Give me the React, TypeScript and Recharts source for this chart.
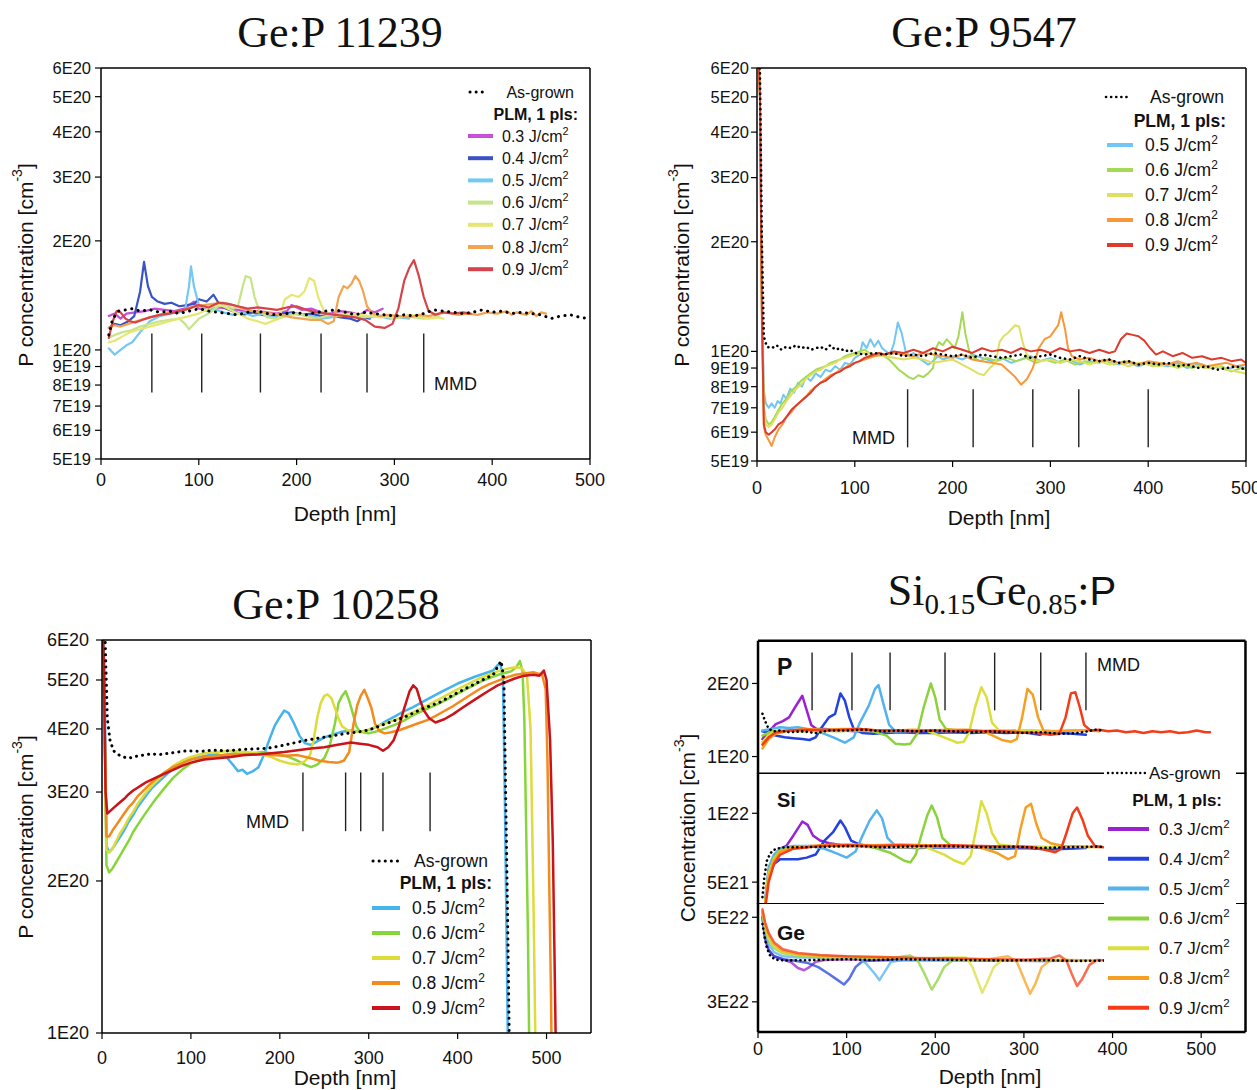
import React from 'react';
import { LineChart, Line, XAxis, YAxis, ReferenceLine } from 'recharts';

type Pt = [number, number];

const SANS = "'Liberation Sans', Arial, sans-serif";
const SERIF = "'Liberation Serif', 'Times New Roman', serif";

// ---------- Ge:P 11239  (values x1E20 cm^-3) ----------
const A_AG: Pt[] = [[8,1.10],[12,1.22],[18,1.28],[25,1.29],[32,1.30],[40,1.28],[50,1.29],[60,1.27],[70,1.28],[80,1.26],[90,1.28],[100,1.30],[110,1.28],[120,1.27],[130,1.26],[140,1.25],[150,1.27],[160,1.28],[170,1.26],[180,1.25],[190,1.26],[200,1.27],[210,1.25],[220,1.27],[230,1.28],[240,1.29],[250,1.27],[260,1.25],[270,1.27],[280,1.26],[290,1.25],[300,1.24],[310,1.25],[320,1.24],[330,1.26],[340,1.29],[350,1.28],[360,1.27],[370,1.26],[380,1.27],[390,1.29],[400,1.27],[410,1.28],[420,1.26],[430,1.27],[440,1.26],[450,1.25],[460,1.22],[470,1.24],[480,1.25],[490,1.23],[500,1.22]];
const A_03: Pt[] = [[8,1.24],[14,1.26],[20,1.22],[26,1.26],[35,1.27],[45,1.28],[55,1.30],[65,1.29],[75,1.28],[85,1.30],[95,1.36],[100,1.30],[110,1.29],[120,1.31],[130,1.30],[140,1.29],[150,1.27],[160,1.28],[170,1.27],[180,1.26],[190,1.28],[195,1.33],[205,1.29],[215,1.30],[225,1.27],[235,1.26],[245,1.28],[255,1.27],[265,1.25],[272,1.29],[280,1.27],[288,1.30]];
const A_04: Pt[] = [[8,1.15],[14,1.18],[20,1.17],[28,1.20],[34,1.24],[40,1.45],[44,1.75],[48,1.50],[52,1.40],[58,1.36],[65,1.34],[72,1.35],[80,1.32],[88,1.33],[95,1.34],[100,1.38],[108,1.36],[115,1.42],[120,1.35],[128,1.30],[135,1.28],[145,1.25],[155,1.27],[165,1.25],[175,1.24],[185,1.26],[195,1.27],[205,1.25],[215,1.26],[225,1.24],[235,1.25],[245,1.23],[255,1.22],[262,1.20],[268,1.23],[275,1.22]];
const A_05: Pt[] = [[8,1.01],[14,0.97],[20,1.00],[26,1.03],[32,1.05],[40,1.12],[50,1.20],[60,1.24],[70,1.26],[80,1.27],[86,1.29],[90,1.50],[92,1.70],[95,1.50],[100,1.33],[108,1.28],[115,1.30],[125,1.27],[135,1.25],[145,1.27],[155,1.24],[165,1.26],[175,1.23],[185,1.24],[195,1.26],[205,1.25],[215,1.24],[225,1.22],[235,1.23],[245,1.25],[255,1.24],[265,1.25],[275,1.23],[285,1.24],[295,1.22],[305,1.23],[315,1.22]];
const A_06: Pt[] = [[8,1.08],[14,1.10],[22,1.12],[30,1.13],[40,1.16],[50,1.18],[60,1.20],[70,1.21],[80,1.22],[86,1.18],[90,1.14],[95,1.18],[100,1.22],[110,1.26],[120,1.32],[128,1.33],[135,1.30],[140,1.32],[145,1.50],[148,1.60],[153,1.58],[157,1.40],[162,1.28],[170,1.23],[180,1.22],[190,1.24],[200,1.26],[210,1.24],[220,1.22],[230,1.24],[240,1.26],[250,1.25],[260,1.24],[270,1.23],[280,1.25],[290,1.24],[300,1.22],[310,1.24],[320,1.23],[330,1.22],[340,1.23],[345,1.24]];
const A_07: Pt[] = [[8,1.05],[14,1.06],[22,1.09],[30,1.12],[40,1.14],[50,1.16],[60,1.18],[70,1.20],[80,1.22],[90,1.24],[100,1.26],[110,1.30],[120,1.34],[130,1.30],[140,1.26],[150,1.22],[160,1.20],[168,1.18],[175,1.20],[182,1.22],[188,1.38],[195,1.42],[202,1.40],[208,1.45],[213,1.58],[218,1.55],[222,1.40],[228,1.28],[235,1.25],[245,1.24],[255,1.26],[265,1.25],[275,1.24],[285,1.23],[295,1.24],[305,1.23],[315,1.25],[325,1.24],[335,1.22],[345,1.23],[350,1.22]];
const A_08: Pt[] = [[8,1.15],[14,1.17],[20,1.16],[28,1.18],[36,1.20],[45,1.22],[55,1.24],[65,1.26],[75,1.27],[85,1.29],[95,1.32],[105,1.33],[115,1.34],[125,1.35],[135,1.33],[145,1.30],[155,1.28],[165,1.27],[175,1.26],[185,1.25],[195,1.23],[205,1.22],[215,1.21],[225,1.21],[232,1.18],[238,1.20],[243,1.40],[248,1.50],[252,1.48],[256,1.52],[260,1.60],[264,1.55],[268,1.45],[272,1.32],[278,1.26],[285,1.24],[295,1.25],[305,1.24],[315,1.23],[325,1.25],[335,1.24],[345,1.26],[355,1.27],[365,1.25],[375,1.26],[385,1.25],[395,1.27],[405,1.26],[415,1.28],[420,1.25],[425,1.27],[435,1.25],[440,1.28],[445,1.24],[450,1.27],[455,1.26]];
const A_09: Pt[] = [[8,1.08],[12,1.20],[16,1.28],[20,1.27],[25,1.22],[30,1.20],[35,1.19],[42,1.21],[50,1.23],[60,1.25],[70,1.26],[80,1.28],[90,1.30],[100,1.33],[110,1.31],[120,1.35],[130,1.34],[140,1.32],[150,1.30],[160,1.31],[170,1.30],[180,1.29],[190,1.31],[200,1.32],[210,1.29],[220,1.27],[230,1.26],[240,1.25],[250,1.24],[260,1.23],[270,1.21],[280,1.16],[290,1.15],[298,1.18],[304,1.30],[310,1.55],[315,1.68],[320,1.77],[325,1.60],[330,1.40],[335,1.28],[342,1.25],[350,1.27],[360,1.26],[370,1.27],[378,1.26]];
const A_MMD = [52, 103, 163, 225, 272, 330];

// ---------- Ge:P 9547  (x1E20) ----------
const B_AG: Pt[] = [[0,8],[3,6],[5,2.0],[7,1.1],[10,1.03],[15,1.02],[20,1.04],[25,1.01],[30,1.03],[35,1.02],[40,1.04],[45,1.02],[50,1.03],[55,1.01],[60,1.02],[65,1.03],[70,1.01],[75,1.04],[80,1.01],[85,1.02],[90,1.00],[95,1.01],[100,0.99],[110,0.98],[120,0.99],[130,0.98],[140,0.99],[150,0.97],[160,0.98],[170,0.97],[180,0.99],[190,0.98],[200,0.97],[210,0.98],[220,0.96],[230,0.98],[240,0.97],[250,0.96],[260,0.97],[270,0.98],[280,0.96],[290,0.97],[300,0.98],[310,0.96],[320,0.95],[330,0.97],[340,0.95],[350,0.94],[360,0.95],[370,0.93],[380,0.94],[390,0.92],[400,0.93],[410,0.92],[420,0.93],[430,0.91],[440,0.92],[450,0.90],[460,0.91],[470,0.89],[480,0.90],[490,0.91],[500,0.89]];
const B_05: Pt[] = [[0,9],[3,5],[5,1.5],[7,0.78],[9,0.72],[12,0.70],[15,0.72],[18,0.70],[21,0.73],[24,0.72],[27,0.76],[30,0.74],[34,0.79],[38,0.77],[42,0.82],[46,0.80],[50,0.85],[55,0.83],[60,0.87],[65,0.85],[70,0.89],[75,0.88],[80,0.91],[85,0.89],[90,0.93],[95,0.92],[100,0.96],[105,0.98],[108,1.06],[112,1.02],[116,1.08],[120,1.03],[124,1.07],[128,1.02],[132,1.00],[136,0.98],[140,1.05],[144,1.20],[148,1.12],[152,1.00],[156,0.97],[160,0.99],[165,0.96],[170,0.94],[175,0.92],[180,0.94],[185,0.97],[190,0.95],[200,0.97],[210,0.95],[220,0.98],[230,0.96],[240,0.94],[250,0.96],[260,0.93],[270,0.95],[280,0.97],[290,0.94],[300,0.96],[310,0.93],[320,0.95],[330,0.92],[340,0.94],[350,0.93],[360,0.95],[370,0.92],[380,0.93],[390,0.91],[400,0.93],[410,0.92],[420,0.91],[430,0.93],[440,0.90],[450,0.92],[460,0.90],[470,0.91],[480,0.89],[490,0.91],[500,0.90]];
const B_06: Pt[] = [[0,9],[3,5],[5,1.4],[7,0.70],[9,0.65],[12,0.63],[15,0.64],[18,0.66],[22,0.69],[26,0.72],[30,0.74],[35,0.78],[40,0.80],[45,0.83],[50,0.85],[55,0.87],[60,0.89],[65,0.90],[70,0.91],[75,0.93],[80,0.94],[85,0.95],[90,0.97],[95,0.98],[100,0.99],[105,1.00],[110,1.01],[115,0.99],[120,0.98],[125,0.99],[130,0.97],[135,0.95],[140,0.92],[145,0.89],[150,0.87],[155,0.85],[160,0.84],[165,0.86],[170,0.85],[175,0.87],[180,0.90],[183,1.02],[186,1.06],[190,1.04],[194,1.08],[198,1.05],[202,1.02],[206,1.10],[210,1.28],[213,1.12],[217,1.00],[222,0.96],[228,0.94],[235,0.96],[245,0.94],[255,0.96],[265,0.94],[275,0.96],[285,0.93],[295,0.95],[305,0.93],[315,0.95],[325,0.92],[335,0.94],[345,0.93],[355,0.95],[365,0.92],[375,0.94],[385,0.92],[395,0.93],[405,0.91],[415,0.93],[425,0.91],[435,0.92],[445,0.90],[455,0.92],[465,0.90],[475,0.91],[485,0.88],[495,0.90],[500,0.89]];
const B_07: Pt[] = [[0,9],[3,5],[5,1.3],[7,0.68],[9,0.63],[12,0.62],[15,0.63],[18,0.65],[22,0.68],[26,0.70],[30,0.73],[35,0.76],[40,0.79],[45,0.81],[50,0.84],[55,0.86],[60,0.88],[65,0.89],[70,0.91],[75,0.92],[80,0.93],[85,0.95],[90,0.96],[95,0.97],[100,0.98],[110,0.99],[120,0.98],[130,0.97],[140,0.96],[150,0.95],[160,0.96],[170,0.95],[180,0.93],[190,0.94],[200,0.95],[210,0.92],[220,0.89],[226,0.87],[232,0.86],[238,0.90],[244,0.93],[248,1.06],[252,1.10],[256,1.12],[260,1.15],[264,1.18],[268,1.17],[272,1.05],[276,0.98],[282,0.95],[290,0.94],[300,0.95],[310,0.93],[320,0.95],[330,0.94],[340,0.92],[350,0.94],[360,0.92],[370,0.93],[380,0.91],[390,0.93],[400,0.92],[410,0.91],[420,0.92],[430,0.90],[440,0.92],[450,0.91],[460,0.90],[470,0.91],[480,0.89],[490,0.88],[500,0.87]];
const B_08: Pt[] = [[0,9],[3,5],[5,1.2],[7,0.62],[9,0.59],[12,0.57],[15,0.55],[18,0.58],[22,0.61],[26,0.63],[30,0.66],[35,0.68],[40,0.71],[45,0.73],[50,0.75],[55,0.78],[60,0.80],[65,0.82],[70,0.84],[75,0.86],[80,0.87],[85,0.89],[90,0.90],[95,0.92],[100,0.93],[110,0.95],[120,0.97],[130,0.98],[140,0.99],[150,0.98],[160,0.97],[170,0.99],[180,0.98],[190,0.97],[200,0.96],[210,0.98],[220,0.95],[230,0.94],[240,0.93],[250,0.92],[258,0.88],[264,0.85],[270,0.81],[276,0.84],[282,0.90],[288,1.02],[294,1.08],[300,1.10],[304,1.14],[308,1.18],[311,1.28],[315,1.15],[318,1.02],[322,0.97],[330,0.95],[340,0.96],[350,0.94],[360,0.95],[370,0.93],[380,0.94],[390,0.92],[400,0.94],[410,0.93],[420,0.92],[430,0.94],[440,0.92],[450,0.93],[460,0.91],[470,0.92],[480,0.93],[490,0.91],[500,0.92]];
const B_09: Pt[] = [[0,9],[3,5],[5,1.3],[7,0.63],[9,0.60],[12,0.59],[15,0.60],[18,0.61],[22,0.63],[26,0.64],[30,0.66],[35,0.69],[40,0.71],[45,0.73],[50,0.75],[55,0.77],[60,0.80],[65,0.82],[70,0.83],[75,0.85],[80,0.87],[85,0.88],[90,0.90],[95,0.91],[100,0.93],[105,0.94],[110,0.96],[115,0.97],[120,0.98],[125,0.99],[130,0.98],[140,1.00],[150,0.99],[160,1.01],[170,0.99],[180,1.02],[190,1.00],[200,1.03],[210,1.01],[220,0.99],[230,1.02],[240,1.00],[250,1.01],[260,0.99],[270,1.02],[280,1.00],[290,1.01],[300,0.99],[310,1.02],[320,1.00],[330,1.01],[340,0.99],[350,1.01],[360,0.99],[366,1.00],[372,1.08],[378,1.12],[384,1.11],[390,1.10],[396,1.07],[402,1.02],[408,0.98],[415,1.00],[425,0.97],[435,0.99],[445,0.96],[455,0.97],[465,0.95],[475,0.96],[485,0.94],[495,0.95],[500,0.93]];
const B_MMD = [154, 221, 282, 329, 400];

// ---------- Ge:P 10258  (x1E20) ----------
const C_AG: Pt[] = [[0,7],[3,6.5],[6,4.2],[9,3.8],[13,3.62],[18,3.56],[24,3.52],[30,3.50],[38,3.53],[46,3.55],[55,3.57],[65,3.56],[75,3.58],[85,3.60],[95,3.62],[110,3.61],[125,3.63],[140,3.62],[155,3.64],[170,3.65],[185,3.66],[200,3.70],[215,3.75],[230,3.80],[245,3.84],[260,3.88],[275,3.92],[290,3.95],[300,3.98],[310,4.04],[320,4.10],[330,4.16],[340,4.22],[350,4.30],[360,4.38],[370,4.45],[380,4.52],[390,4.62],[400,4.72],[410,4.82],[420,4.92],[430,5.02],[440,5.12],[446,5.35],[449,5.45],[452,5.0],[454,3.0],[456,1.8],[458,1.0],[460,0.8]];
const C_05: Pt[] = [[0,7],[3,5],[5,2.35],[8,2.28],[12,2.32],[16,2.38],[20,2.44],[25,2.52],[30,2.62],[35,2.70],[40,2.80],[45,2.88],[50,2.96],[55,3.04],[60,3.10],[65,3.16],[70,3.22],[75,3.28],[80,3.34],[85,3.38],[90,3.42],[95,3.46],[100,3.48],[110,3.52],[120,3.55],[130,3.56],[140,3.52],[147,3.40],[153,3.30],[158,3.32],[163,3.26],[170,3.30],[176,3.36],[182,3.55],[188,3.80],[194,4.05],[200,4.22],[205,4.35],[210,4.30],[216,4.10],[222,3.88],[228,3.75],[235,3.72],[242,3.78],[250,3.85],[260,3.90],[270,3.95],[280,3.97],[290,3.95],[300,3.98],[310,4.05],[320,4.15],[330,4.24],[340,4.34],[350,4.42],[360,4.52],[370,4.62],[380,4.72],[390,4.82],[400,4.92],[410,5.00],[420,5.08],[430,5.15],[440,5.22],[445,5.35],[448,5.40],[451,5.0],[453,3.0],[455,1.6],[457,0.8]];
const C_06: Pt[] = [[0,7],[3,4],[5,2.15],[8,2.08],[12,2.12],[16,2.18],[20,2.24],[25,2.32],[30,2.40],[35,2.50],[40,2.58],[45,2.66],[50,2.74],[55,2.82],[60,2.90],[70,3.05],[80,3.20],[90,3.32],[100,3.42],[110,3.48],[120,3.52],[130,3.54],[140,3.56],[150,3.58],[160,3.56],[170,3.58],[180,3.60],[190,3.58],[200,3.56],[210,3.52],[220,3.46],[228,3.40],[235,3.36],[242,3.40],[250,3.50],[256,3.70],[262,4.10],[266,4.50],[270,4.65],[274,4.75],[278,4.55],[282,4.30],[286,4.05],[290,3.95],[300,3.92],[310,3.96],[320,4.02],[330,4.08],[340,4.16],[350,4.26],[360,4.34],[370,4.42],[380,4.50],[390,4.60],[400,4.70],[410,4.80],[420,4.90],[430,5.00],[440,5.08],[450,5.15],[460,5.20],[466,5.30],[470,5.45],[473,5.20],[475,4.20],[477,2.60],[479,1.60],[481,0.8]];
const C_07: Pt[] = [[0,7],[3,4],[5,2.30],[8,2.28],[12,2.32],[16,2.40],[20,2.48],[25,2.56],[30,2.66],[35,2.74],[40,2.84],[50,3.00],[60,3.14],[70,3.26],[80,3.38],[90,3.46],[100,3.52],[115,3.58],[130,3.60],[145,3.62],[160,3.60],[175,3.58],[190,3.52],[200,3.46],[210,3.42],[220,3.40],[228,3.45],[234,3.55],[238,3.80],[242,4.20],[246,4.50],[250,4.65],[254,4.68],[258,4.60],[262,4.40],[266,4.20],[270,4.05],[276,3.98],[284,3.95],[295,3.96],[305,4.02],[315,4.08],[325,4.14],[335,4.20],[345,4.28],[355,4.36],[365,4.44],[375,4.54],[385,4.64],[395,4.74],[405,4.84],[415,4.94],[425,5.04],[435,5.12],[445,5.20],[455,5.26],[465,5.30],[472,5.28],[478,5.10],[482,4.00],[484,2.50],[486,1.50],[488,0.8]];
const C_08: Pt[] = [[0,7],[3,4],[5,2.45],[8,2.45],[12,2.52],[16,2.58],[20,2.64],[25,2.72],[30,2.80],[35,2.86],[40,2.94],[50,3.06],[60,3.18],[70,3.28],[80,3.36],[90,3.42],[100,3.48],[115,3.52],[130,3.54],[145,3.56],[160,3.55],[175,3.57],[190,3.55],[205,3.54],[220,3.55],[235,3.50],[245,3.46],[255,3.44],[265,3.43],[272,3.46],[278,3.60],[283,4.10],[287,4.45],[291,4.65],[295,4.78],[299,4.60],[303,4.40],[307,4.10],[312,3.96],[318,3.92],[325,3.94],[335,3.98],[345,4.04],[355,4.10],[365,4.16],[375,4.24],[385,4.34],[395,4.44],[405,4.56],[415,4.68],[425,4.80],[435,4.90],[445,4.98],[455,5.06],[465,5.12],[475,5.15],[485,5.18],[495,5.12],[499,4.80],[501,3.50],[503,2.00],[505,1.20],[506,0.8]];
const C_09: Pt[] = [[0,7],[2,5.5],[4,3.0],[6,2.72],[10,2.76],[14,2.80],[18,2.84],[22,2.88],[26,2.92],[30,2.97],[35,3.02],[40,3.06],[45,3.10],[50,3.14],[60,3.20],[70,3.26],[80,3.32],[90,3.38],[100,3.43],[115,3.48],[130,3.50],[145,3.52],[160,3.55],[175,3.56],[190,3.58],[205,3.60],[220,3.63],[235,3.66],[250,3.68],[265,3.72],[280,3.76],[290,3.74],[300,3.72],[310,3.68],[316,3.62],[322,3.68],[328,3.80],[334,4.05],[340,4.40],[346,4.75],[350,4.88],[354,4.80],[358,4.55],[362,4.35],[368,4.20],[375,4.12],[385,4.18],[395,4.28],[405,4.40],[415,4.52],[425,4.64],[435,4.76],[445,4.88],[455,4.96],[465,5.04],[475,5.10],[485,5.12],[492,5.10],[497,5.22],[500,5.00],[504,3.80],[507,2.40],[509,1.40],[511,0.8]];
const C_MMD = [226, 274, 291, 316, 369];

// ---------- Si0.15Ge0.85:P ----------
// P (x1E20)
const DP_AG: Pt[] = [[5,1.50],[8,1.40],[12,1.30],[18,1.27],[25,1.28],[35,1.26],[50,1.27],[65,1.25],[80,1.28],[100,1.28],[120,1.29],[140,1.27],[160,1.28],[180,1.27],[200,1.28],[220,1.27],[240,1.26],[260,1.27],[280,1.26],[300,1.25],[320,1.26],[340,1.24],[360,1.25],[372,1.27],[380,1.29],[388,1.28]];
const DP_03: Pt[] = [[5,1.18],[10,1.25],[15,1.30],[20,1.36],[28,1.40],[35,1.45],[42,1.60],[50,1.78],[55,1.55],[60,1.35],[66,1.30],[75,1.30],[85,1.29],[95,1.28],[110,1.27],[125,1.27],[140,1.28],[155,1.27],[170,1.27],[190,1.28],[210,1.27],[230,1.27],[250,1.27],[270,1.26],[290,1.27]];
const DP_04: Pt[] = [[5,1.27],[12,1.25],[20,1.22],[30,1.20],[40,1.19],[50,1.18],[58,1.17],[65,1.20],[72,1.32],[80,1.45],[87,1.50],[93,1.82],[98,1.70],[103,1.45],[108,1.30],[118,1.25],[130,1.24],[145,1.25],[160,1.26],[180,1.25],[200,1.25],[220,1.26],[240,1.25],[260,1.26],[280,1.25],[300,1.26],[318,1.23],[325,1.26],[340,1.25],[355,1.24],[370,1.23]];
const DP_05: Pt[] = [[5,1.28],[15,1.30],[25,1.32],[35,1.31],[45,1.32],[55,1.30],[65,1.28],[75,1.24],[85,1.20],[98,1.14],[108,1.20],[115,1.38],[125,1.62],[132,1.90],[136,1.97],[142,1.62],[148,1.35],[155,1.27],[170,1.27],[190,1.28],[210,1.27],[230,1.28],[250,1.27],[270,1.27],[290,1.28]];
const DP_06: Pt[] = [[5,1.22],[15,1.27],[30,1.28],[50,1.27],[70,1.28],[90,1.27],[110,1.28],[130,1.27],[145,1.22],[155,1.13],[165,1.12],[172,1.13],[180,1.25],[187,1.60],[195,2.00],[200,1.75],[205,1.42],[212,1.30],[225,1.28],[245,1.27],[265,1.28],[285,1.27],[305,1.28],[325,1.27]];
const DP_07: Pt[] = [[5,1.15],[15,1.25],[30,1.28],[50,1.28],[70,1.27],[90,1.28],[110,1.30],[130,1.28],[150,1.27],[170,1.28],[190,1.28],[205,1.22],[215,1.18],[225,1.14],[232,1.15],[238,1.25],[245,1.60],[252,1.93],[258,1.75],[264,1.38],[272,1.28],[290,1.27],[310,1.28],[330,1.27],[350,1.28],[370,1.28]];
const DP_08: Pt[] = [[5,1.08],[12,1.18],[20,1.24],[35,1.28],[55,1.30],[75,1.29],[95,1.30],[115,1.30],[135,1.28],[155,1.28],[175,1.29],[195,1.28],[215,1.29],[235,1.29],[255,1.27],[265,1.22],[275,1.17],[285,1.15],[292,1.18],[298,1.45],[304,1.90],[310,1.80],[316,1.45],[322,1.28],[335,1.27],[355,1.28],[375,1.28],[385,1.27]];
const DP_09: Pt[] = [[5,1.12],[12,1.20],[20,1.26],[35,1.28],[55,1.29],[75,1.28],[95,1.29],[115,1.30],[135,1.28],[155,1.28],[175,1.27],[195,1.28],[215,1.27],[235,1.28],[255,1.27],[275,1.27],[295,1.26],[315,1.25],[330,1.23],[340,1.24],[347,1.45],[353,1.82],[358,1.84],[363,1.60],[368,1.35],[375,1.28],[385,1.29],[395,1.27],[405,1.28],[415,1.26],[425,1.27],[435,1.25],[445,1.27],[455,1.26],[465,1.27],[475,1.25],[485,1.26],[495,1.28],[505,1.26],[510,1.26]];
const D_MMD = [61, 106, 149, 211, 267, 319, 370];
// Si (x1E21)
const DS_AG: Pt[] = [[5,4.3],[7,5.2],[10,6.2],[14,6.7],[20,7.0],[30,7.1],[50,7.1],[80,7.15],[110,7.2],[140,7.1],[170,7.15],[200,7.2],[230,7.15],[260,7.1],[290,7.15],[320,7.05],[350,7.1],[380,7.15],[395,7.1]];
const DS_03: Pt[] = [[8,4.0],[12,5.6],[18,6.5],[25,7.0],[32,7.2],[40,8.0],[50,9.2],[56,8.9],[62,8.0],[70,7.6],[80,7.4],[90,7.3],[100,7.2],[120,7.2],[150,7.15],[180,7.15],[210,7.1],[240,7.15],[270,7.1],[300,7.15]];
const DS_04: Pt[] = [[8,4.0],[12,5.3],[18,6.0],[25,6.3],[35,6.3],[45,6.3],[55,6.4],[65,6.6],[75,7.6],[85,8.3],[93,9.3],[98,8.7],[105,7.6],[115,7.3],[130,7.1],[150,7.1],[180,7.05],[210,7.1],[240,7.1],[270,7.0],[300,7.05],[330,6.95],[350,7.0],[370,7.05]];
const DS_05: Pt[] = [[8,4.2],[12,5.8],[18,6.6],[25,7.0],[40,7.2],[60,7.2],[75,7.0],[88,6.7],[100,6.4],[110,6.8],[118,8.0],[126,9.3],[134,10.3],[140,9.5],[146,7.8],[155,7.2],[175,7.15],[200,7.1],[230,7.15],[260,7.1],[290,7.15]];
const DS_06: Pt[] = [[8,4.0],[12,5.5],[18,6.4],[25,6.9],[40,7.1],[70,7.2],[100,7.2],[130,7.1],[150,6.7],[165,6.2],[172,6.1],[178,6.6],[185,8.2],[191,9.8],[196,10.8],[202,9.6],[208,7.8],[218,7.2],[240,7.15],[270,7.1],[300,7.15],[330,7.1]];
const DS_07: Pt[] = [[8,4.0],[12,5.4],[18,6.3],[25,6.8],[40,7.1],[70,7.2],[100,7.2],[130,7.2],[160,7.1],[190,7.1],[210,6.6],[222,6.2],[232,6.0],[240,6.5],[246,8.5],[252,11.3],[258,10.0],[264,8.2],[272,7.3],[290,7.15],[320,7.1],[350,7.15],[375,7.1]];
const DS_08: Pt[] = [[8,4.0],[12,5.3],[18,6.2],[25,6.8],[40,7.1],[70,7.25],[100,7.3],[130,7.25],[160,7.3],[190,7.25],[220,7.2],[250,7.1],[270,6.7],[282,6.3],[290,6.5],[296,8.5],[302,10.6],[308,11.0],[314,9.0],[320,7.8],[330,7.4],[345,7.2],[365,7.15],[385,7.1]];
const DS_09: Pt[] = [[8,3.8],[12,5.0],[18,6.0],[25,6.6],[40,7.0],[70,7.2],[100,7.25],[130,7.2],[160,7.25],[190,7.2],[220,7.25],[250,7.2],[280,7.15],[310,7.1],[325,6.9],[335,6.75],[342,7.0],[348,8.2],[355,10.0],[360,10.6],[366,9.4],[372,8.0],[380,7.2],[390,7.1],[395,7.1]];
// Ge (x1E22)
const DG_AG: Pt[] = [[5,4.8],[7,4.5],[10,4.15],[14,3.95],[20,3.87],[30,3.85],[60,3.86],[100,3.88],[130,3.86],[160,3.88],[200,3.87],[240,3.86],[280,3.85],[320,3.86],[360,3.84],[395,3.85]];
const DG_03: Pt[] = [[5,5.0],[8,4.4],[12,4.1],[18,3.95],[28,3.88],[38,3.80],[45,3.68],[52,3.63],[58,3.70],[65,3.82],[75,3.86],[100,3.88],[140,3.87],[180,3.87],[220,3.86],[260,3.85],[300,3.86]];
const DG_04: Pt[] = [[5,5.0],[8,4.4],[12,4.1],[18,3.95],[28,3.88],[40,3.85],[55,3.80],[68,3.70],[80,3.55],[90,3.42],[97,3.33],[103,3.45],[110,3.70],[118,3.84],[135,3.85],[160,3.86],[200,3.87],[240,3.86],[280,3.85],[320,3.84],[360,3.85]];
const DG_05: Pt[] = [[5,5.1],[8,4.55],[12,4.25],[18,4.05],[28,3.95],[45,3.92],[70,3.92],[95,3.95],[112,3.93],[122,3.78],[132,3.55],[137,3.42],[143,3.60],[150,3.82],[165,3.86],[200,3.85],[240,3.86],[280,3.85]];
const DG_06: Pt[] = [[5,5.15],[8,4.65],[12,4.35],[18,4.15],[28,4.02],[45,3.96],[70,3.92],[100,3.90],[130,3.90],[155,3.92],[172,3.97],[180,3.85],[188,3.55],[196,3.23],[202,3.40],[210,3.70],[220,3.86],[250,3.86],[290,3.85],[320,3.86]];
const DG_07: Pt[] = [[5,5.15],[8,4.7],[12,4.4],[18,4.2],[28,4.05],[45,3.98],[70,3.95],[100,3.93],[140,3.92],[180,3.90],[215,3.92],[235,3.92],[242,3.70],[248,3.40],[253,3.17],[258,3.35],[266,3.70],[275,3.86],[300,3.85],[340,3.86],[375,3.85]];
const DG_08: Pt[] = [[5,5.2],[8,4.8],[12,4.5],[18,4.25],[28,4.08],[45,4.00],[70,3.96],[100,3.94],[140,3.92],[180,3.90],[220,3.89],[260,3.88],[282,3.95],[292,3.82],[300,3.45],[307,3.15],[313,3.35],[320,3.70],[330,3.86],[350,3.86],[380,3.85]];
const DG_09: Pt[] = [[5,5.25],[8,4.85],[12,4.55],[18,4.3],[28,4.12],[45,4.03],[70,3.98],[100,3.95],[140,3.93],[180,3.91],[220,3.90],[260,3.88],[300,3.87],[330,3.90],[340,3.97],[348,3.85],[354,3.55],[360,3.30],[366,3.45],[374,3.75],[382,3.86],[395,3.85]];

const FLUENCE = ['0.3', '0.4', '0.5', '0.6', '0.7', '0.8', '0.9'];
const X500 = [0, 100, 200, 300, 400, 500];
const Y_LOW = [5e19, 6e19, 7e19, 8e19, 9e19, 1e20, 2e20, 3e20, 4e20, 5e20, 6e20];
const Y_HIGH = [1e20, 2e20, 3e20, 4e20, 5e20, 6e20];

const COL_A = ['#c84fd8', '#3a52c4', '#74c8f2', '#c6e58a', '#e6e672', '#f2a451', '#d6434a'];
const COL_B = ['#72c6f5', '#a6d955', '#dfe063', '#f7993b', '#dc3b2e'];
const COL_C = ['#45b3ec', '#86d63a', '#dcdc3a', '#f38a1e', '#c8141a'];
const COL_D = ['#9a22d0', '#2342e0', '#54b2ef', '#8cd23c', '#dadf3e', '#f5a022', '#f43d18'];

const fmtE = (v: number) => {
  const e = Math.floor(Math.log10(v) + 1e-9);
  const m = Math.round(v / Math.pow(10, e));
  return `${m}E${e}`;
};
const blank = () => '';

interface Series { c: string; pts: Pt[]; dot?: boolean; op?: number }

interface FrameProps {
  left: number; top: number; width: number; height: number;
  plot: [number, number, number, number];
  xDomain: [number, number]; xTicks: number[]; xLabels: boolean; xtm?: number;
  yDomain: [number, number]; yTicks: number[]; ytm: number; fs: number;
  series: Series[]; unit: number; lw: number; dash: string; dotW: number;
  mmd?: { xs: number[]; y: [number, number] };
  border: number; topAxis: boolean;
}

function Frame(p: FrameProps) {
  const [px0, px1, py0, py1] = p.plot;
  const yw = px0 - p.left;
  const mr = p.left + p.width - px1 - 1;
  const mt = py0 - p.top - (p.topAxis ? 1 : 0);
  const xh = p.top + p.height - py1;
  const axis = { stroke: '#000', strokeWidth: p.border };
  const tl = { stroke: '#000', strokeWidth: 1.2 };
  const tickStyle = { fontSize: p.fs, fill: '#111', fontFamily: SANS };
  const xTickStyle = { fontSize: 18, fill: '#111', fontFamily: SANS };
  return (
    <div style={{ position: 'absolute', left: p.left, top: p.top }}>
      <LineChart width={p.width} height={p.height} margin={{ top: mt, right: mr, bottom: 0, left: 0 }}>
        <XAxis dataKey="x" type="number" domain={p.xDomain} ticks={p.xTicks} interval={0} allowDataOverflow
          height={xh} axisLine={axis} tickLine={tl} tickSize={p.xLabels ? 6 : 5} mirror={!p.xLabels}
          tickMargin={p.xtm ?? 4} tick={p.xLabels ? xTickStyle : false} tickFormatter={p.xLabels ? undefined : blank} />
        {p.topAxis && (
          <XAxis xAxisId="top" orientation="top" dataKey="x" type="number" domain={p.xDomain} ticks={p.xTicks}
            interval={0} allowDataOverflow height={1} mirror axisLine={axis} tickLine={tl} tickSize={5}
            tick={false} tickFormatter={blank} />
        )}
        <YAxis type="number" scale="log" domain={p.yDomain} ticks={p.yTicks} interval={0} allowDataOverflow
          width={yw} axisLine={axis} tickLine={tl} tickSize={6} tickMargin={p.ytm} tick={tickStyle}
          tickFormatter={fmtE} />
        <YAxis yAxisId="right" orientation="right" type="number" scale="log" domain={p.yDomain} ticks={p.yTicks}
          interval={0} allowDataOverflow width={1} mirror axisLine={axis} tickLine={tl} tickSize={5}
          tick={false} tickFormatter={blank} />
        {p.mmd && p.mmd.xs.map((x) => (
          <ReferenceLine key={`mmd-${x}`} segment={[{ x, y: p.mmd!.y[0] }, { x, y: p.mmd!.y[1] }]}
            stroke="#222" strokeWidth={1.4} />
        ))}
        {p.series.map((s, i) => (
          <Line key={i} data={s.pts.map(([x, y]) => ({ x, y: y * p.unit }))} dataKey="y" dot={false}
            isAnimationActive={false} stroke={s.dot ? '#000' : s.c} strokeOpacity={s.op ?? 1}
            strokeWidth={s.dot ? p.dotW : p.lw} strokeDasharray={s.dot ? p.dash : undefined}
            strokeLinecap="round" strokeLinejoin="round" />
        ))}
      </LineChart>
    </div>
  );
}

interface LegendProps {
  fs: number; cols: string[]; labels: string[];
  lx: [number, number]; tx: number; y0: number; dy: number;
  agY: number; agDots: [number, number]; agX: number; agAnchor: 'start' | 'end';
  plmY: number; plmX: number; dotW: number; dash: string;
}

function Legend(l: LegendProps) {
  const b = l.fs * 0.35;
  return (
    <g fontFamily={SANS} fontSize={l.fs} fill="#111">
      <line x1={l.agDots[0]} x2={l.agDots[1]} y1={l.agY} y2={l.agY} stroke="#000" strokeWidth={l.dotW}
        strokeDasharray={l.dash} strokeLinecap="round" />
      <text x={l.agX} y={l.agY + b} textAnchor={l.agAnchor}>As-grown</text>
      <text x={l.plmX} y={l.plmY + b} textAnchor="end" fontWeight="bold">PLM, 1 pls:</text>
      {l.labels.map((t, i) => (
        <g key={t}>
          <line x1={l.lx[0]} x2={l.lx[1]} y1={l.y0 + i * l.dy} y2={l.y0 + i * l.dy} stroke={l.cols[i]} strokeWidth={4} />
          <text x={l.tx} y={l.y0 + i * l.dy + b}>
            {t} J/cm<tspan dy={-l.fs * 0.42} fontSize={l.fs * 0.68}>2</tspan>
          </text>
        </g>
      ))}
    </g>
  );
}

function YLabel({ x, y, text }: { x: number; y: number; text: string }) {
  return (
    <text transform={`translate(${x},${y}) rotate(-90)`} textAnchor="middle" dominantBaseline="central"
      fontFamily={SANS} fontSize={21} fill="#111">
      {text} [cm<tspan dy={-8} fontSize={14}>-3</tspan><tspan dy={8}>]</tspan>
    </text>
  );
}

const mk = (cols: string[], arr: Pt[][], ag: Pt[], op?: number): Series[] => [
  ...arr.map((pts, i) => ({ c: cols[i], pts, op })),
  { c: '#000', pts: ag, dot: true },
];

export default function App() {
  const t = { fontFamily: SERIF, fontSize: 44, fill: '#111', textAnchor: 'middle' as const };
  const dl = { fontFamily: SANS, fontSize: 21, fill: '#111', textAnchor: 'middle' as const };
  const mm = { fontFamily: SANS, fontSize: 18, fill: '#111' };
  return (
    <div style={{ position: 'absolute', left: 0, top: 0, width: 1257, height: 1090, background: '#fff', overflow: 'hidden' }}>
      <Frame left={0} top={0} width={620} height={530} plot={[101, 589, 69, 459]}
        xDomain={[0, 500]} xTicks={X500} xLabels xtm={8} yDomain={[5e19, 6e20]} yTicks={Y_LOW} ytm={4} fs={16.5}
        series={mk(COL_A, [A_03, A_04, A_05, A_06, A_07, A_08, A_09], A_AG)} unit={1e20} lw={2.2}
        dash="0.1 6.5" dotW={3} mmd={{ xs: A_MMD, y: [7.63e19, 1.11e20] }} border={1.5} topAxis />
      <Frame left={640} top={0} width={617} height={530} plot={[757, 1245, 69, 461]}
        xDomain={[0, 500]} xTicks={X500} xLabels xtm={14} yDomain={[5e19, 6e20]} yTicks={Y_LOW} ytm={2} fs={16.5}
        series={mk(COL_B, [B_05, B_06, B_07, B_08, B_09], B_AG)} unit={1e20} lw={2}
        dash="0.1 5" dotW={2.6} mmd={{ xs: B_MMD, y: [5.45e19, 7.87e19] }} border={1.5} topAxis />
      <Frame left={0} top={570} width={620} height={520} plot={[102, 590, 641, 1033]}
        xDomain={[0, 550]} xTicks={X500} xLabels xtm={12} yDomain={[1e20, 6e20]} yTicks={Y_HIGH} ytm={7} fs={18}
        series={mk(COL_C, [C_05, C_06, C_07, C_08, C_09], C_AG)} unit={1e20} lw={2.5}
        dash="0.1 6" dotW={3} mmd={{ xs: C_MMD, y: [2.51e20, 3.28e20] }} border={1.5} topAxis />
      <Frame left={640} top={630} width={617} height={143.7} plot={[758, 1244.5, 641.7, 772.7]}
        xDomain={[0, 550]} xTicks={X500} xLabels={false} yDomain={[8.5e19, 3e20]} yTicks={[1e20, 2e20]} ytm={3} fs={18}
        series={mk(COL_D, [DP_03, DP_04, DP_05, DP_06, DP_07, DP_08, DP_09], DP_AG)} unit={1e20} lw={2.5}
        dash="0.1 4.5" dotW={2.6} mmd={{ xs: D_MMD, y: [1.55e20, 2.68e20] }} border={2.5} topAxis />
      <Frame left={640} top={772.7} width={617} height={131.3} plot={[758, 1244.5, 772.7, 903]}
        xDomain={[0, 550]} xTicks={X500} xLabels={false} yDomain={[4e21, 1.5e22]} yTicks={[5e21, 1e22]} ytm={3} fs={18}
        series={mk(COL_D, [DS_03, DS_04, DS_05, DS_06, DS_07, DS_08, DS_09], DS_AG)} unit={1e21} lw={2.5}
        dash="0.1 4.5" dotW={2.6} border={2.5} topAxis={false} />
      <Frame left={640} top={903} width={617} height={187} plot={[758, 1244.5, 903, 1032]}
        xDomain={[0, 550]} xTicks={X500} xLabels xtm={4} yDomain={[2.5e22, 5.45e22]} yTicks={[3e22, 5e22]} ytm={3} fs={18}
        series={mk(COL_D, [DG_03, DG_04, DG_05, DG_06, DG_07, DG_08, DG_09], DG_AG, 0.75)} unit={1e22} lw={2.5}
        dash="0.1 4.5" dotW={2.6} border={2.5} topAxis={false} />

      <svg width={1257} height={1090} style={{ position: 'absolute', left: 0, top: 0, pointerEvents: 'none' }}>
        <text x={340} y={47} {...t}>Ge:P 11239</text>
        <text x={984} y={47} {...t}>Ge:P 9547</text>
        <text x={336} y={619} {...t}>Ge:P 10258</text>
        <text x={1002} y={605} {...t}>
          Si<tspan fontSize={29} dy={9}>0.15</tspan><tspan dy={-9}>Ge</tspan>
          <tspan fontSize={29} dy={9}>0.85</tspan><tspan dy={-9}>:</tspan>
          <tspan fontFamily={SANS} fontSize={40}>P</tspan>
        </text>

        <YLabel x={25} y={265} text="P concentration" />
        <YLabel x={681} y={265} text="P concentration" />
        <YLabel x={25} y={837} text="P concentration" />
        <YLabel x={687} y={828} text="Concentration" />

        <text x={345} y={521} {...dl}>Depth [nm]</text>
        <text x={999} y={525} {...dl}>Depth [nm]</text>
        <text x={345} y={1085} {...dl}>Depth [nm]</text>
        <text x={990} y={1084} {...dl}>Depth [nm]</text>

        <text x={434} y={390} {...mm}>MMD</text>
        <text x={852} y={444} {...mm}>MMD</text>
        <text x={246} y={828} {...mm}>MMD</text>
        <text x={1097} y={671} {...mm}>MMD</text>

        <text x={777} y={675} fontFamily={SANS} fontWeight="bold" fontSize={23} fill="#111">P</text>
        <text x={777} y={807} fontFamily={SANS} fontWeight="bold" fontSize={20} fill="#111">Si</text>
        <text x={777} y={940} fontFamily={SANS} fontWeight="bold" fontSize={21} fill="#111">Ge</text>

        <Legend fs={16} cols={COL_A} labels={FLUENCE} lx={[468, 493]} tx={502} y0={136} dy={22.2}
          agY={92} agDots={[470, 488]} agX={574} agAnchor="end" plmY={114} plmX={578} dotW={3} dash="0.1 6" />
        <Legend fs={17.5} cols={COL_B} labels={FLUENCE.slice(2)} lx={[1107, 1133]} tx={1145} y0={145} dy={25}
          agY={97} agDots={[1106, 1131]} agX={1224} agAnchor="end" plmY={121} plmX={1226} dotW={2.6} dash="0.1 5" />
        <Legend fs={17.5} cols={COL_C} labels={FLUENCE.slice(2)} lx={[372, 400]} tx={412} y0={908} dy={25}
          agY={861} agDots={[373, 398]} agX={488} agAnchor="end" plmY={883} plmX={492} dotW={3} dash="0.1 6" />

        <rect x={1104} y={764} width={132} height={258} fill="#fff" />
        <Legend fs={17} cols={COL_D} labels={FLUENCE} lx={[1108, 1149]} tx={1159} y0={829} dy={29.8}
          agY={773} agDots={[1108, 1147]} agX={1149} agAnchor="start" plmY={800} plmX={1222} dotW={2.4} dash="0.1 4.5" />
      </svg>
    </div>
  );
}
